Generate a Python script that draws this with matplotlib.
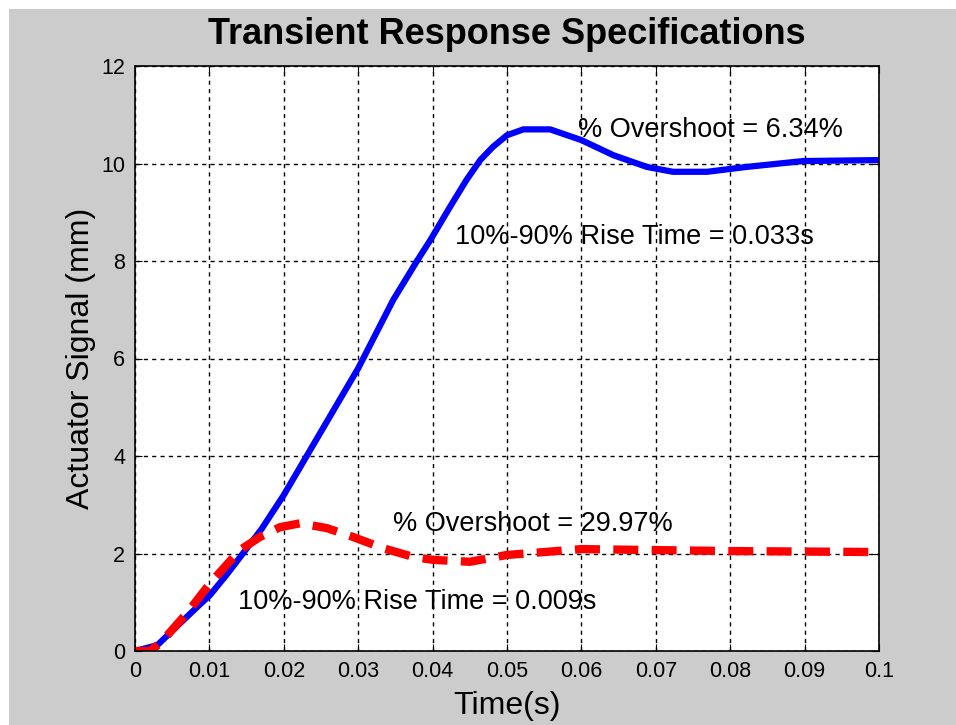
import matplotlib
matplotlib.use("Agg")
import matplotlib.pyplot as plt
from matplotlib.patches import Rectangle

plt.rcParams['font.family'] = ['Liberation Sans', 'DejaVu Sans']

# values
t_blue = [0, 0.003, 0.0056, 0.008, 0.0101, 0.0125, 0.0145, 0.017, 0.02, 0.025, 0.03, 0.0347,
          0.0379, 0.0397, 0.0423, 0.0445, 0.0464, 0.0481, 0.05, 0.0522, 0.0558, 0.06, 0.0643,
          0.0688, 0.0723, 0.0769, 0.0822, 0.0898, 0.1]
y_blue = [0, 0.12, 0.5, 0.85, 1.15, 1.6, 2.0, 2.5, 3.2, 4.5, 5.8, 7.2,
          8.0, 8.43, 9.1, 9.65, 10.07, 10.34, 10.58, 10.7, 10.7, 10.48, 10.17,
          9.93, 9.83, 9.83, 9.93, 10.05, 10.07]

t_red = [0, 0.002, 0.0034, 0.007, 0.0101, 0.0141, 0.0168, 0.0195, 0.0222, 0.0258, 0.0293,
         0.0333, 0.0374, 0.04, 0.045, 0.05, 0.06, 0.07, 0.08, 0.1]
y_red = [0, 0, 0.16, 0.78, 1.39, 2.07, 2.34, 2.54, 2.62, 2.52, 2.34,
         2.11, 1.93, 1.87, 1.83, 1.97, 2.09, 2.07, 2.05, 2.03]

notes = ["% Overshoot = 6.34%", "10%-90% Rise Time = 0.033s",
         "% Overshoot = 29.97%", "10%-90% Rise Time = 0.009s"]
note_x = [0.0595, 0.0430, 0.0347, 0.0138]
note_y = [10.69, 8.49, 2.6, 1.0]

fig = plt.figure(figsize=(9.56, 7.25), dpi=100, facecolor='white')
fig.patches.append(Rectangle((9 / 956, 0), 1, 1 - 9 / 725, transform=fig.transFigure,
                             facecolor='#cccccc', edgecolor='none', zorder=-1))

ax = fig.add_axes([135 / 956, 1 - 651 / 725, 744 / 956, 585 / 725])
ax.set_facecolor('white')

ax.plot(t_blue, y_blue, color='#0000ff', lw=4.5, solid_capstyle='butt')
ax.plot(t_red, y_red, color='#ff0000', lw=6, ls=(0, (3, 1.6)))

for s, x, y in zip(notes, note_x, note_y):
    ax.text(x, y, s, fontsize=19.5, va='center', ha='left', color='black')

ax.set_xlim(0, 0.1)
ax.set_ylim(0, 12)
ax.set_xticks([i / 100 for i in range(11)])
ax.set_xticklabels(['0', '0.01', '0.02', '0.03', '0.04', '0.05', '0.06', '0.07', '0.08', '0.09', '0.1'])
ax.set_yticks(range(0, 13, 2))
ax.grid(True, color='black', ls=(0, (3, 3)), lw=1)
ax.tick_params(direction='in', length=5, labelsize=15.5, top=True, right=True, pad=7)
for sp in ax.spines.values():
    sp.set_linewidth(1.2)

ax.set_title('Transient Response Specifications', fontsize=26, fontweight='bold', pad=16)
ax.set_xlabel('Time(s)', fontsize=23, labelpad=7)
ax.set_ylabel('Actuator Signal (mm)', fontsize=23, labelpad=4)

fig.savefig('out.png', dpi=100, facecolor=fig.get_facecolor())
